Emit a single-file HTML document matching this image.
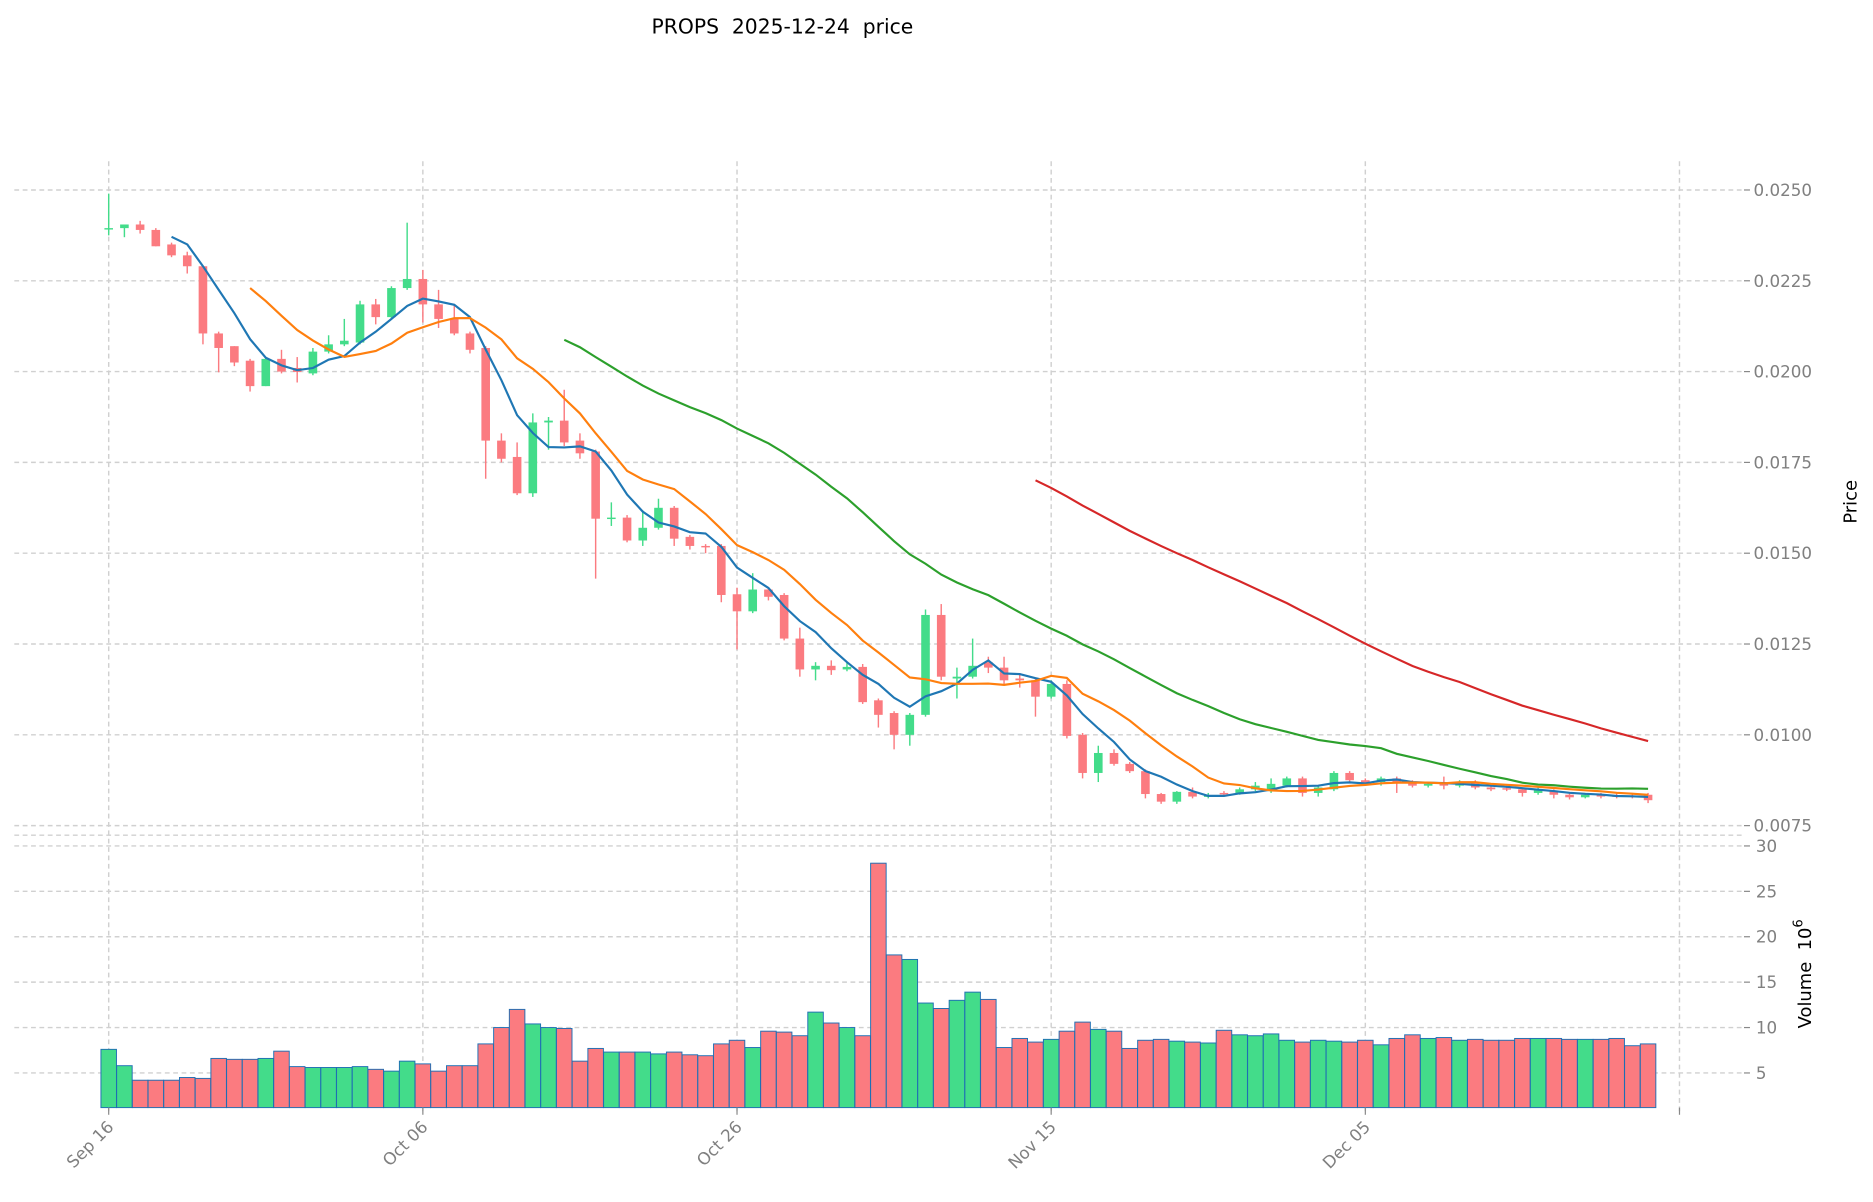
<!DOCTYPE html>
<html><head><meta charset="utf-8"><style>
html,body{margin:0;padding:0;background:#fff;}
svg{display:block;font-family:"DejaVu Sans","Liberation Sans",sans-serif;}
text{white-space:pre;}
</style></head><body>
<svg id="chart" width="1873" height="1202" viewBox="0 0 1568 1006" preserveAspectRatio="none" xmlns="http://www.w3.org/2000/svg">
<text x="655" y="28" text-anchor="middle" font-size="17" fill="#000" xml:space="preserve">PROPS  2025-12-24  price</text>
<g id="grid"></g>
<g id="vol"></g>
<g id="candles"></g>
<g id="mas"></g>
<g id="axes"></g>
<text transform="translate(1554,420) rotate(-90)" text-anchor="middle" font-size="15" fill="#000">Price</text>
<text transform="translate(1516,815) rotate(-90)" text-anchor="middle" font-size="15" fill="#000" xml:space="preserve">Volume  10<tspan dy="-7" font-size="11">6</tspan></text>
</svg>
<script>
const opens=[23.95,23.95,24.05,23.9,23.5,23.2,22.9,21.05,20.7,20.3,19.6,20.35,20.1,19.95,20.55,20.75,20.8,21.85,21.5,22.3,22.55,21.85,21.45,21.05,20.65,18.1,17.65,16.65,18.6,18.65,18.1,17.8,15.95,15.98,15.35,15.7,16.25,15.45,15.2,15.2,13.87,13.4,14.0,13.85,12.65,11.8,11.9,11.8,11.87,10.95,10.6,10.0,10.55,13.3,11.55,11.6,12.0,11.85,11.55,11.5,11.05,11.4,10.0,8.95,9.5,9.2,9.0,8.37,8.16,8.43,8.3,8.4,8.4,8.5,8.45,8.6,8.8,8.4,8.5,8.95,8.75,8.7,8.8,8.7,8.6,8.65,8.6,8.7,8.55,8.53,8.5,8.4,8.45,8.35,8.28,8.35,8.33,8.33,8.35];
const closes=[23.95,24.05,23.9,23.45,23.2,22.9,21.05,20.65,20.25,19.6,20.35,20.0,19.99,20.55,20.75,20.85,21.85,21.5,22.3,22.55,21.85,21.45,21.05,20.6,18.1,17.6,16.65,18.6,18.65,18.05,17.75,15.95,15.98,15.35,15.7,16.25,15.4,15.2,15.17,13.85,13.4,14.0,13.8,12.65,11.8,11.9,11.78,11.87,10.9,10.55,10.0,10.55,13.3,11.6,11.6,11.9,11.85,11.5,11.5,11.05,11.4,9.97,8.95,9.5,9.2,9.0,8.37,8.16,8.43,8.3,8.33,8.38,8.5,8.6,8.65,8.8,8.4,8.55,8.95,8.75,8.65,8.8,8.7,8.6,8.65,8.6,8.7,8.55,8.5,8.5,8.4,8.5,8.35,8.28,8.35,8.3,8.3,8.3,8.2];
const highs=[24.9,24.05,24.15,23.95,23.55,23.3,22.9,21.1,20.7,20.35,20.4,20.6,20.4,20.65,21.0,21.45,21.95,22.0,22.35,24.1,22.8,22.25,21.85,21.1,20.7,18.3,18.05,18.85,18.75,19.5,18.3,17.85,16.4,16.05,16.18,16.5,16.3,15.5,15.25,15.25,14.05,14.45,14.05,13.9,12.95,12.0,12.05,12.0,11.95,11.0,10.65,10.6,13.45,13.6,11.85,12.65,12.15,12.15,11.7,11.55,11.5,11.5,10.05,9.7,9.6,9.25,9.05,8.4,8.45,8.55,8.4,8.45,8.55,8.7,8.8,8.85,8.85,8.6,9.0,9.0,8.8,8.85,8.85,8.75,8.7,8.85,8.75,8.75,8.6,8.6,8.55,8.55,8.5,8.4,8.4,8.4,8.38,8.4,8.4];
const lows=[23.75,23.7,23.8,23.45,23.15,22.7,20.75,19.98,20.15,19.45,19.6,19.95,19.7,19.9,20.5,20.7,20.75,21.3,21.45,22.25,21.35,21.2,21.0,20.5,17.05,17.5,16.6,16.55,17.85,17.95,17.6,14.3,15.75,15.3,15.2,15.65,15.2,15.1,15.0,13.65,12.35,13.35,13.7,12.6,11.6,11.5,11.65,11.75,10.85,10.2,9.6,9.7,10.5,11.5,11.0,11.55,11.7,11.4,11.3,10.5,11.0,9.9,8.8,8.7,9.15,8.95,8.25,8.1,8.1,8.25,8.25,8.3,8.35,8.45,8.4,8.55,8.3,8.3,8.45,8.7,8.6,8.6,8.4,8.55,8.55,8.5,8.55,8.5,8.45,8.45,8.3,8.35,8.25,8.22,8.25,8.25,8.25,8.25,8.12];
const volumes=[7.6,5.8,4.2,4.2,4.2,4.5,4.4,6.6,6.5,6.5,6.6,7.4,5.7,5.6,5.6,5.6,5.7,5.4,5.2,6.3,6.0,5.2,5.8,5.8,8.2,10.0,12.0,10.4,10.0,9.9,6.3,7.7,7.3,7.3,7.3,7.1,7.3,7.0,6.9,8.2,8.6,7.8,9.6,9.5,9.1,11.7,10.5,10.0,9.1,28.1,18.0,17.5,12.7,12.1,13.0,13.9,13.1,7.8,8.8,8.4,8.7,9.6,10.6,9.8,9.6,7.7,8.6,8.7,8.5,8.4,8.3,9.7,9.2,9.1,9.3,8.6,8.4,8.6,8.5,8.4,8.6,8.1,8.8,9.2,8.8,8.9,8.6,8.7,8.6,8.6,8.8,8.8,8.8,8.7,8.7,8.7,8.8,8.0,8.2];
const priceTicks=[0.0250,0.0225,0.0200,0.0175,0.0150,0.0125,0.0100,0.0075];
const volTicks=[30,25,20,15,10,5];
const dateTicks=[0,20,40,60,80,100];
const dateLabels=["Sep 16","Oct 06","Oct 26","Nov 15","Dec 05",""];
const maWindows=[5,10,30,60];
const maColors=["#1f77b4","#ff7f0e","#2ca02c","#d62728"];

const NS="http://www.w3.org/2000/svg";
const X=i=>91+i*13.15;
const PY=p=>159+(25-p)/2.5*76;
const VY=v=>936-v*7.6;
const VBOT=927;
function mk(tag,parent,attrs){const e=document.createElementNS(NS,tag);for(const k in attrs)e.setAttribute(k,attrs[k]);parent.appendChild(e);return e;}
const grid=document.getElementById('grid'),axes=document.getElementById('axes');
const gc="#d0d0d0";
priceTicks.forEach(t=>{const y=PY(t*1000);
 const l=mk('line',grid,{x1:12,x2:1460,y1:y,y2:y,stroke:gc,'stroke-dasharray':'4,3','stroke-width':1.2});
 
 
 mk('line',axes,{x1:1460,x2:1465,y1:y,y2:y,stroke:'#888'});
 const tx=mk('text',axes,{x:1468,y:y+5,'font-size':14,fill:'#808080'});tx.textContent=t.toFixed(4);
 
 
});
mk('line',grid,{x1:12,x2:1460,y1:699,y2:699,stroke:gc,'stroke-dasharray':'4,3','stroke-width':1.2});
volTicks.forEach(t=>{const y=VY(t);
 const l=mk('line',grid,{x1:12,x2:1460,y1:y,y2:y,stroke:gc,'stroke-dasharray':'4,3','stroke-width':1.2});
 
 
 mk('line',axes,{x1:1460,x2:1465,y1:y,y2:y,stroke:'#888'});
 const tx=mk('text',axes,{x:1470,y:y+5,'font-size':14,fill:'#808080'});tx.textContent=t;
 
 
});
dateTicks.forEach((d,k)=>{const x=X(d);
 mk('line',grid,{x1:x,x2:x,y1:135,y2:930,stroke:gc,'stroke-dasharray':'4,3','stroke-width':1.2});
 mk('line',axes,{x1:x,x2:x,y1:927,y2:933,stroke:'#888'});
 if(dateLabels[k]){const tx=mk('text',axes,{x:0,y:0,'font-size':14,fill:'#808080','text-anchor':'end',transform:`translate(${x+5},${944}) rotate(-45)`});tx.textContent=dateLabels[k];
 
 }
});
const vol=document.getElementById('vol'),cg=document.getElementById('candles');
volumes.forEach((v,i)=>{const up=closes[i]>=opens[i];
 const r=mk('rect',vol,{x:X(i)-6.5,y:VY(v),width:13,height:VBOT-VY(v),fill:up?"#43dc8a":"#fb7b80",stroke:"#1f6fb4",'stroke-width':0.8});
 
 
});
closes.forEach((c,i)=>{const o=opens[i],up=c>=o,col=up?"#43dc8a":"#fb7b80";
 const w=mk('line',cg,{x1:X(i),x2:X(i),y1:PY(highs[i]),y2:PY(lows[i]),stroke:col,'stroke-width':1.2});
 
 
 const yt=PY(Math.max(o,c)),yb=PY(Math.min(o,c));
 const b=mk('rect',cg,{x:X(i)-3.6,y:yt,width:7.2,height:Math.max(yb-yt,1.2),fill:col});
 
 
});
const mas=document.getElementById('mas');
maWindows.forEach((n,k)=>{let pts=[];
 for(let i=n-1;i<closes.length;i++){let s=0;for(let j=i-n+1;j<=i;j++)s+=closes[j];pts.push(X(i).toFixed(1)+','+PY(s/n).toFixed(1));}
 const p=mk('polyline',mas,{points:pts.join(' '),fill:'none',stroke:maColors[k],'stroke-width':1.8});
 
 
});
</script>
</body></html>
